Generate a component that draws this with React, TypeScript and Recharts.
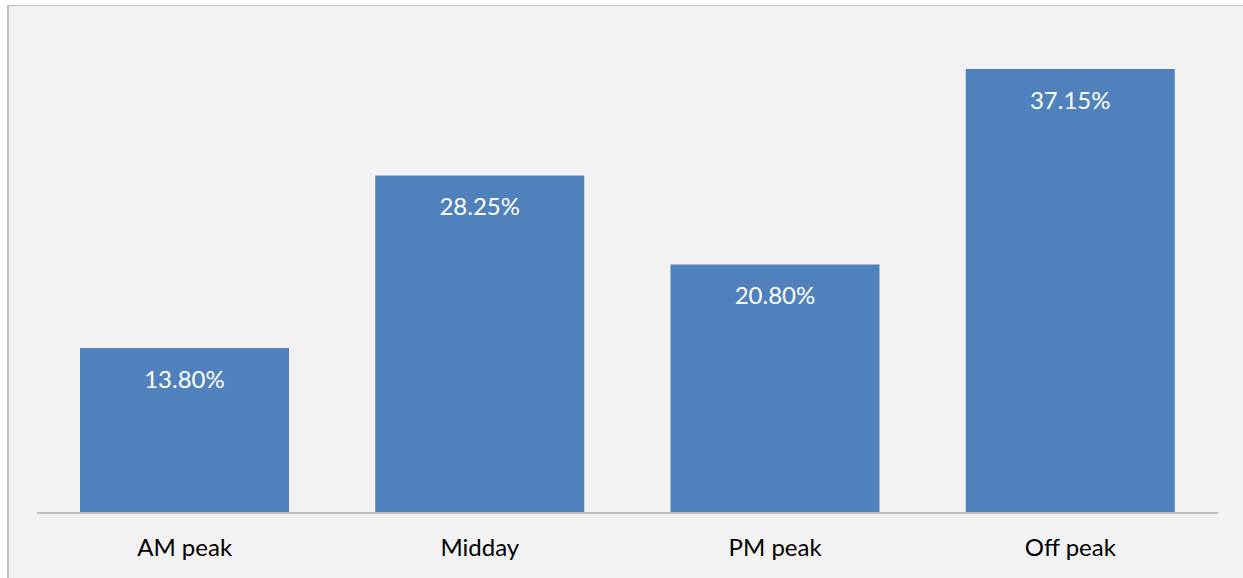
import React from "react";
import { BarChart, Bar, XAxis, YAxis, LabelList } from "recharts";

const categories = ["AM peak", "Midday", "PM peak", "Off peak"];
const shares = [13.8, 28.25, 20.8, 37.15];
const data = categories.map((name, i) => ({ name, value: shares[i] }));

const FONT = "Lato, 'Open Sans', sans-serif";

const Tick = (props: any) => {
  const { x, payload } = props;
  return (
    <text x={x} y={513 + 43} textAnchor="middle" fontSize={24} fill="#000" fontFamily={FONT}>
      {payload.value}
    </text>
  );
};

const ValueLabel = (props: any) => {
  const { x, y, width, value } = props;
  return (
    <text x={x + width / 2} y={y + 39.5} textAnchor="middle" fontSize={24} fill="#fff" fontFamily={FONT}>
      {Number(value).toFixed(2)}%
    </text>
  );
};

export default function App() {
  return (
    <div style={{ position: "fixed", left: 0, top: 0, width: 1243, height: 578, background: "#fff", overflow: "hidden" }}>
      <div
        style={{
          position: "absolute",
          left: 7,
          top: 5,
          width: 1236,
          height: 573,
          background: "#f2f2f2",
          borderTop: "1px solid #bfbfbf",
          borderLeft: "2px solid #bfbfbf",
          boxSizing: "border-box",
        }}
      />
      <div style={{ position: "absolute", left: 0, top: 0 }}>
        <BarChart
          width={1243}
          height={578}
          data={data}
          margin={{ top: 35, right: 25, bottom: 35, left: 37 }}
          barCategoryGap={0}
        >
          <XAxis
            dataKey="name"
            height={30}
            axisLine={{ stroke: "#bfbfbf", strokeWidth: 2 }}
            tickLine={false}
            tick={<Tick />}
            interval={0}
          />
          <YAxis hide width={0} domain={[0, 40]} />
          <Bar dataKey="value" fill="#4f81bd" barSize={209} isAnimationActive={false}>
            <LabelList dataKey="value" content={<ValueLabel />} />
          </Bar>
        </BarChart>
      </div>
    </div>
  );
}
